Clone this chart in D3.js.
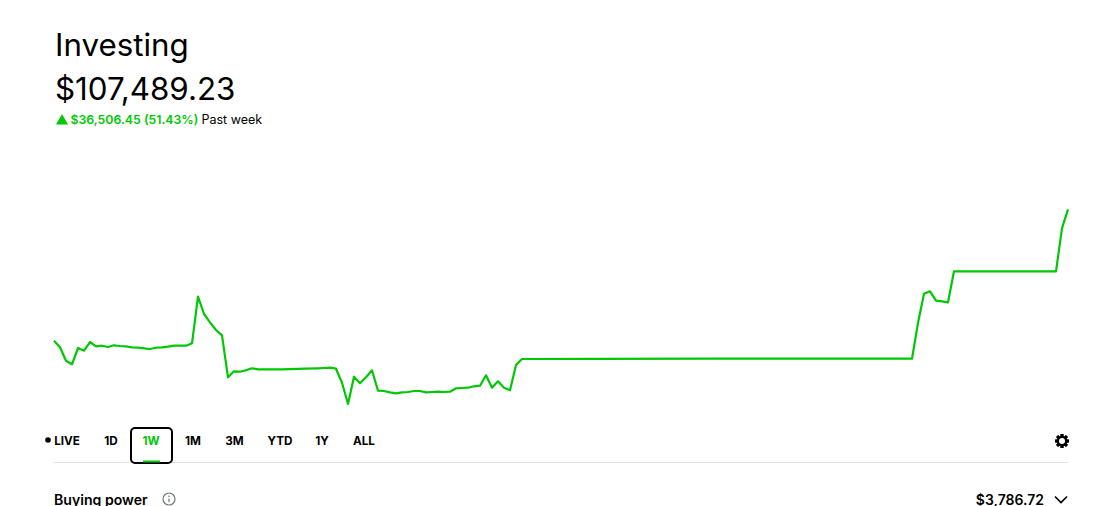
<!DOCTYPE html>
<html>
<head>
<meta charset="utf-8">
<script src="https://cdn.jsdelivr.net/npm/d3@7"></script>
<style>
html,body{margin:0;padding:0;background:#fff;overflow:hidden}
svg{display:block}
text{font-family:Inter,"Noto Sans",sans-serif;fill:#000}
</style>
</head>
<body>
<svg id="c" width="1117" height="506"></svg>
<script>
const sampleIndex = [0,1,2,3,4,5,6,7,8,9,10,11,12,13,14,15,16,17,18,19,20,21,22,23,24,25,26,27,28,29,30,31,32,33,34,38,42,44,45,46,47,48,49,50,51,52,53,54,55,56,57,58,59,60,61,62,63,64,65,66,67,68,69,70,71,72,73,74,75,76,77,78,90,110,130,143,144,145,146,147,148,149,150,160,167,168,169];
const portfolioValue = [70983,69148,65426,64425,68954,68204,70621,69426,69593,69232,69704,69510,69426,69148,69037,68871,68676,69037,69148,69315,69593,69593,69593,70260,83207,78400,76094,73955,72482,60814,62481,62369,62758,63314,63036,63036,63200,63314,63400,63481,63203,59313,53396,60980,59147,60814,62758,57091,57007,56646,56368,56646,56729,57007,57007,56646,56729,56813,56729,56813,57757,57841,57924,58313,58480,61369,57924,59702,57924,57202,64231,65898,65950,66000,65990,65981,75900,84040,84707,82095,81929,81651,90280,90250,90264,102210,107489];
const tabs = ["LIVE","1D","1W","1M","3M","YTD","1Y","ALL"];
const tabCenters = [67,111,151,193,234.5,280,322,364];
const activeTab = "1W";
const title = "Investing";
const price = "$107,489.23";
const change = "$36,506.45 (51.43%)";
const period = "Past week";
const footLabel = "Buying power";
const footValue = "$3,786.72";

const green = "#00c805";
const svg = d3.select("#c");

const x = d3.scaleLinear().domain([0,169]).range([54,1068]);
const y = d3.scaleLinear().domain([d3.min(portfolioValue),d3.max(portfolioValue)]).range([404,209.3]);
const line = d3.line().x(d=>x(d[0])).y(d=>y(d[1]));

svg.append("text").attr("x",55).attr("y",56).attr("font-size",31.3).text(title);
svg.append("text").attr("x",55).attr("y",100).attr("font-size",31.3).text(price);
svg.append("path").attr("d","M56 124.5L62 114L68 124.5Z").attr("fill",green);
svg.append("text").attr("x",70.5).attr("y",124).attr("font-size",12.3).attr("font-weight",600).style("fill",green).text(change);
svg.append("text").attr("x",201.5).attr("y",124).attr("font-size",12.5).text(period);

svg.append("path").datum(d3.zip(sampleIndex,portfolioValue)).attr("d",line)
  .attr("fill","none").attr("stroke",green).attr("stroke-width",2.2).attr("stroke-linejoin","round");

svg.append("line").attr("x1",54).attr("x2",1068).attr("y1",462.5).attr("y2",462.5).attr("stroke","#e3e5e5");

svg.append("circle").attr("cx",48).attr("cy",440).attr("r",2.8).attr("fill","#000");
svg.append("rect").attr("x",131).attr("y",428).attr("width",41).attr("height",35).attr("rx",4)
  .attr("fill","#fff").attr("stroke","#000").attr("stroke-width",2);
svg.append("rect").attr("x",143).attr("y",460.5).attr("width",17).attr("height",2).attr("fill",green);
svg.selectAll(".tab").data(tabs).join("text").attr("class","tab")
  .attr("x",(d,i)=>tabCenters[i]).attr("y",445).attr("text-anchor","middle")
  .attr("font-size",11.7).attr("font-weight",700)
  .style("fill",d=>d===activeTab?green:"#000").text(d=>d);

// settings gear
const gear = svg.append("g").attr("transform","translate(1062,441)");
gear.selectAll("rect").data(d3.range(8)).join("rect")
  .attr("x",-1.5).attr("y",-7).attr("width",3).attr("height",14).attr("rx",.6)
  .attr("transform",d=>`rotate(${d*45})`).attr("fill","#000");
gear.append("circle").attr("r",5.2).attr("fill","#000");
gear.append("circle").attr("r",3).attr("fill","#fff");

svg.append("text").attr("x",54).attr("y",504.5).attr("font-size",14.1).attr("font-weight",600).text(footLabel);
// info icon
const info = svg.append("g").attr("transform","translate(169,499)");
info.append("circle").attr("r",6).attr("fill","none").attr("stroke","#6f7777").attr("stroke-width",1.2);
info.append("line").attr("y1",-.5).attr("y2",3.2).attr("stroke","#6f7777").attr("stroke-width",1.2);
info.append("circle").attr("cy",-2.8).attr("r",.8).attr("fill","#6f7777");

svg.append("text").attr("x",1044).attr("y",504.5).attr("text-anchor","end").attr("font-size",14).attr("font-weight",600).text(footValue);
svg.append("path").attr("d","M1055 496.5L1061 502.5L1067 496.5").attr("fill","none").attr("stroke","#000").attr("stroke-width",1.6);
</script>
</body>
</html>
